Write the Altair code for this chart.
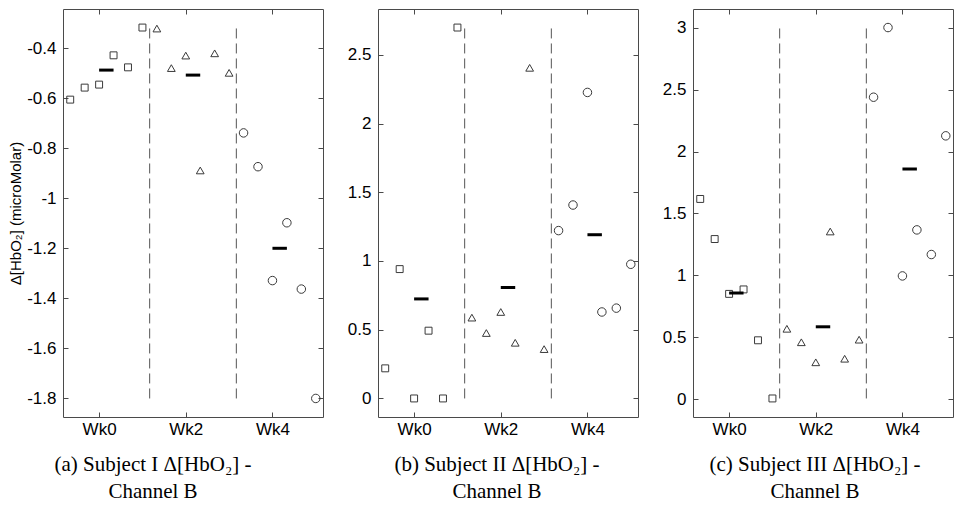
import altair as alt
import pandas as pd

# ---------------- data ----------------
weeks = ["Wk0", "Wk2", "Wk4"]
week_ticks = [3, 9, 15]
divider_x = [6.5, 12.5]
mean_x_start = [3, 9, 15]
mean_x_end = [4, 10, 16]

# Subject I
s1_wk0 = [-0.606, -0.558, -0.546, -0.429, -0.477, -0.318]
s1_wk2 = [-0.322, -0.480, -0.430, -0.889, -0.421, -0.499]
s1_wk4 = [-0.739, -0.874, -1.329, -1.098, -1.363, -1.800]
s1_means = [-0.488, -0.508, -1.200]
s1_yticks = [-1.8, -1.6, -1.4, -1.2, -1.0, -0.8, -0.6, -0.4]

# Subject II
s2_wk0 = [0.219, 0.941, 0.000, 0.493, 0.000, 2.698]
s2_wk2 = [0.588, 0.476, 0.629, 0.405, 2.405, 0.359]
s2_wk4 = [1.221, 1.407, 2.226, 0.629, 0.657, 0.976]
s2_means = [0.724, 0.807, 1.191]
s2_yticks = [0, 0.5, 1, 1.5, 2, 2.5]

# Subject III
s3_wk0 = [1.617, 1.293, 0.850, 0.886, 0.475, 0.005]
s3_wk2 = [0.568, 0.459, 0.297, 1.354, 0.326, 0.480]
s3_wk4 = [2.439, 3.002, 0.995, 1.367, 1.168, 2.127]
s3_means = [0.857, 0.584, 1.859]
s3_yticks = [0, 0.5, 1, 1.5, 2, 2.5, 3]

captions = [
    ["(a) Subject I \u0394[HbO\u2082] -", "Channel B"],
    ["(b) Subject II \u0394[HbO\u2082] -", "Channel B"],
    ["(c) Subject III \u0394[HbO\u2082] -", "Channel B"],
]
y_title = "\u0394[HbO\u2082] (microMolar)"

# ---------------- styling ----------------
SANS = "Liberation Sans, Arial, DejaVu Sans"
SERIF = "Liberation Serif, DejaVu Serif"
FRAME = "#4a4a4a"
PW, PH = 260, 408

x_label_expr = " : ".join(
    f"datum.value == {t} ? '{w}'" for t, w in zip(week_ticks[:-1], weeks[:-1])
) + f" : '{weeks[-1]}'"
y_label_expr = "replace(format(datum.value, '.1~f'), '\u2212', '-')"


def make_panel(groups, means, yticks, caption, dx, show_title):
    rows = []
    for g, vals in enumerate(groups):
        for i, v in enumerate(vals):
            rows.append({"x": 6 * g + i + 1, "y": v, "week": weeks[g]})
    pts = pd.DataFrame(rows)
    allv = [v for vals in groups for v in vals]
    lo, hi = min(allv), max(allv)
    pad = 0.05 * (hi - lo)

    xs = alt.Scale(domain=[0.5, 18.5], nice=False, zero=False)
    ys = alt.Scale(domain=[lo - pad, hi + pad], nice=False, zero=False)

    common = dict(offset=-5, tickSize=5, domain=False, grid=False,
                  tickColor=FRAME, tickWidth=1)
    x_bottom = alt.Axis(orient="bottom", values=week_ticks, labelExpr=x_label_expr,
                        labelPadding=4, title=None, **common)
    y_left = alt.Axis(orient="left", values=yticks, labelExpr=y_label_expr,
                      labelPadding=7, title=y_title if show_title else None,
                      titlePadding=3, **common)
    x_top = alt.Axis(orient="top", values=week_ticks, labels=False, title=None, **common)
    y_right = alt.Axis(orient="right", values=yticks, labels=False, title=None, **common)

    mdf = pd.DataFrame({"x": mean_x_start, "x2": mean_x_end, "y": means})
    ddf = pd.DataFrame({"x": divider_x, "y": [lo] * len(divider_x), "y2": [hi] * len(divider_x)})

    dashes = alt.Chart(ddf).mark_rule(strokeDash=[10, 5], color="#555555", strokeWidth=1).encode(
        x=alt.X("x:Q", scale=xs, axis=None),
        y=alt.Y("y:Q", scale=ys, axis=None),
        y2="y2:Q",
    )
    points = alt.Chart(pts).mark_point(filled=False, strokeWidth=1, color="#3a3a3a", opacity=1).encode(
        x=alt.X("x:Q", scale=xs, axis=x_bottom),
        y=alt.Y("y:Q", scale=ys, axis=y_left),
        shape=alt.Shape("week:N", scale=alt.Scale(domain=weeks, range=["square", "triangle-up", "circle"]), legend=None),
        size=alt.Size("week:O", scale=alt.Scale(domain=weeks, range=[48, 72, 62]), legend=None),
    )
    mean_bars = alt.Chart(mdf).mark_rule(strokeWidth=3, color="black").encode(
        x=alt.X("x:Q", scale=xs, axis=x_top),
        x2="x2:Q",
        y=alt.Y("y:Q", scale=ys, axis=y_right),
    )

    return alt.layer(dashes, points, mean_bars).resolve_axis(
        x="independent", y="independent"
    ).properties(
        width=PW,
        height=PH,
        title=alt.TitleParams(
            text=caption, orient="bottom", anchor="middle", font=SERIF,
            fontSize=21, fontWeight="normal", lineHeight=27, offset=17,
            dx=dx, color="black",
        ),
    )


p1 = make_panel([s1_wk0, s1_wk2, s1_wk4], s1_means, s1_yticks, captions[0], -40, True)
p2 = make_panel([s2_wk0, s2_wk2, s2_wk4], s2_means, s2_yticks, captions[1], -11, False)
p3 = make_panel([s3_wk0, s3_wk2, s3_wk4], s3_means, s3_yticks, captions[2], -8, False)

chart = alt.hconcat(p1, p2, p3, spacing=55, bounds="flush").properties(
    padding=0, background="white"
).configure_view(
    stroke=FRAME, strokeWidth=1
).configure_axis(
    labelFont=SANS, labelFontSize=17, labelColor="black",
    titleFont=SANS, titleFontSize=15, titleFontWeight="normal", titleColor="black",
)

chart.save("out.html", embed_options={"renderer": "svg", "actions": False})
